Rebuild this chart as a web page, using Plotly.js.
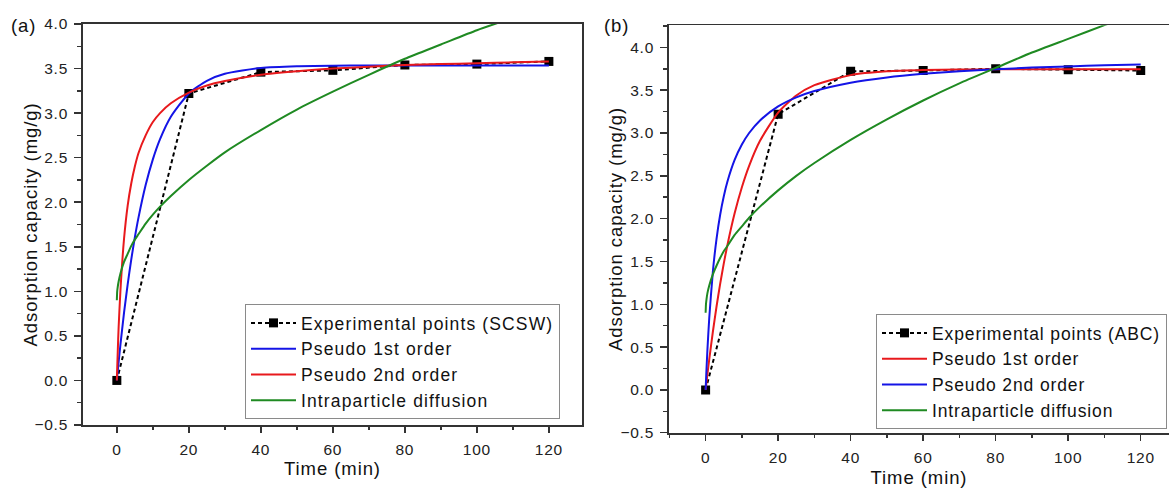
<!DOCTYPE html>
<html>
<head>
<meta charset="utf-8">
<script src="https://cdn.plot.ly/plotly-3.0.1.min.js"></script>
<style>
html,body{margin:0;padding:0;overflow:hidden;background:#fff;}
#chart{width:1169px;height:488px;}
svg text{letter-spacing:0.05em;}
svg .legendtext{letter-spacing:0.065em;}
</style>
</head>
<body>
<div id="chart"></div>
<script>
// ---- Data ----
const expTime = [0, 20, 40, 60, 80, 100, 120];
const expSCSW = [0, 3.22, 3.46, 3.48, 3.54, 3.55, 3.58];
const expABC  = [0, 3.22, 3.72, 3.73, 3.75, 3.74, 3.73];

const fitTime = [0, 0.1, 0.25, 0.5, 1, 2, 3, 4, 5, 6, 8, 10, 12, 15, 20, 25, 30, 40, 50, 60, 70, 80, 90, 100, 110, 120];

// Panel (a) SCSW
const scswPseudo1 = [0, 0.043, 0.106, 0.207, 0.403, 0.761, 1.075, 1.357, 1.605, 1.824, 2.192, 2.481, 2.708, 2.959, 3.221, 3.363, 3.441, 3.507, 3.527, 3.532, 3.534, 3.535, 3.535, 3.535, 3.535, 3.535];
const scswPseudo2 = [0, 0.135, 0.32, 0.60, 1.01, 1.59, 1.96, 2.21, 2.40, 2.55, 2.75, 2.90, 3.00, 3.11, 3.23, 3.31, 3.36, 3.43, 3.47, 3.50, 3.52, 3.54, 3.55, 3.56, 3.57, 3.58];
const scswIntra   = [0.90, 1.00, 1.05, 1.11, 1.20, 1.33, 1.42, 1.51, 1.58, 1.64, 1.76, 1.86, 1.95, 2.07, 2.25, 2.41, 2.56, 2.81, 3.04, 3.24, 3.43, 3.61, 3.77, 3.93, 4.07, 4.21];

// Panel (b) ABC
const abcPseudo1 = [0, 0.037, 0.092, 0.183, 0.357, 0.679, 0.971, 1.235, 1.474, 1.690, 2.062, 2.367, 2.617, 2.909, 3.238, 3.438, 3.559, 3.676, 3.720, 3.736, 3.742, 3.744, 3.745, 3.745, 3.745, 3.745];
const abcPseudo2 = [0, 0.104, 0.250, 0.470, 0.839, 1.382, 1.762, 2.043, 2.259, 2.430, 2.685, 2.865, 3.000, 3.147, 3.310, 3.416, 3.490, 3.588, 3.649, 3.691, 3.722, 3.745, 3.764, 3.778, 3.791, 3.801];
const abcIntra   = [0.90, 1.00, 1.06, 1.13, 1.22, 1.35, 1.45, 1.54, 1.62, 1.68, 1.81, 1.91, 2.01, 2.14, 2.33, 2.50, 2.65, 2.92, 3.16, 3.38, 3.58, 3.76, 3.94, 4.10, 4.26, 4.41];

const namesA = ['Experimental points (SCSW)', 'Pseudo 1st order', 'Pseudo 2nd order', 'Intraparticle diffusion'];
const namesB = ['Experimental points (ABC)', 'Pseudo 1st order', 'Pseudo 2nd order', 'Intraparticle diffusion'];
const xTitle = 'Time (min)';
const yTitle = 'Adsorption capacity (mg/g)';

// ---- Styling ----
const W = 1169, H = 488;
const BLUE = '#1414e6', RED = '#e8191c', GREEN = '#1f8a22', AX = '#333333';
const FONT = 'Liberation Sans, Arial, sans-serif';

function expTrace(y, name, xa, ya, leg) {
  return {x: expTime, y: y, name: name, xaxis: xa, yaxis: ya, legend: leg,
    type: 'scatter', mode: 'lines+markers',
    line: {color: '#000', width: 2, dash: '4px,3px'},
    marker: {symbol: 'square', size: 9, color: '#000'}};
}
function fitTrace(y, name, color, xa, ya, leg) {
  return {x: fitTime, y: y, name: name, xaxis: xa, yaxis: ya, legend: leg,
    type: 'scatter', mode: 'lines',
    line: {color: color, width: 2, shape: 'spline', smoothing: 0.6}};
}

const data = [
  expTrace(expSCSW, namesA[0], 'x', 'y', 'legend'),
  fitTrace(scswPseudo1, namesA[1], BLUE, 'x', 'y', 'legend'),
  fitTrace(scswPseudo2, namesA[2], RED, 'x', 'y', 'legend'),
  fitTrace(scswIntra, namesA[3], GREEN, 'x', 'y', 'legend'),
  expTrace(expABC, namesB[0], 'x2', 'y2', 'legend2'),
  fitTrace(abcPseudo1, namesB[1], RED, 'x2', 'y2', 'legend2'),
  fitTrace(abcPseudo2, namesB[2], BLUE, 'x2', 'y2', 'legend2'),
  fitTrace(abcIntra, namesB[3], GREEN, 'x2', 'y2', 'legend2')
];

function xAxis(domain, range, anchor, standoff, lblOff) {
  return {domain: domain, range: range, anchor: anchor,
    tick0: 0, dtick: 20, ticks: 'outside', ticklen: 6, tickwidth: 1.5, tickcolor: AX,
    ticklabelstandoff: lblOff,
    showline: true, linecolor: AX, linewidth: 1.8, mirror: true,
    showgrid: false, zeroline: false,
    minor: {dtick: 10, ticks: 'outside', ticklen: 3.5, tickwidth: 1.5, tickcolor: AX, showgrid: false},
    tickfont: {size: 15.5, color: '#222'},
    title: {text: xTitle, font: {size: 18.5, color: '#111'}, standoff: standoff}};
}
function yAxis(domain, range, anchor, mirror) {
  return {domain: domain, range: range, anchor: anchor,
    tick0: 0, dtick: 0.5, tickformat: '.1f', ticks: 'outside', ticklen: 7, tickwidth: 1.5, tickcolor: AX,
    ticklabelstandoff: 3,
    showline: true, linecolor: AX, linewidth: 1.8, mirror: mirror,
    showgrid: false, zeroline: false,
    minor: {dtick: 0.25, ticks: 'outside', ticklen: 4, tickwidth: 1.5, tickcolor: AX, showgrid: false},
    tickfont: {size: 15.5, color: '#222'}};
}

const legendStyle = {bgcolor: '#ffffff', bordercolor: '#8a8a8a', borderwidth: 1,
  font: {size: 17.5, color: '#111'}, itemwidth: 45, tracegroupgap: 0, traceorder: 'normal'};

function yTitleAnn(xPx, yTop, yBot) {
  return {text: yTitle, textangle: -90, xref: 'paper', yref: 'paper',
    x: xPx / W, y: 1 - (yTop + yBot) / 2 / H, xanchor: 'center', yanchor: 'middle',
    showarrow: false, font: {size: 18.5, color: '#111'}};
}

const layout = {
  width: W, height: H,
  margin: {l: 0, r: 0, t: 0, b: 0},
  paper_bgcolor: '#ffffff', plot_bgcolor: '#ffffff',
  font: {family: FONT, size: 15, color: '#222'},
  showlegend: true,
  xaxis: xAxis([83 / W, 582 / W], [-9.4, 129.2], 'y', 0, 4),
  yaxis: yAxis([1 - 425 / H, 1 - 24 / H], [-0.5, 4.0], 'x', true),
  xaxis2: xAxis([669 / W, 1], [-10.1, 127.8], 'y2', 8, 4),
  yaxis2: yAxis([1 - 432.7 / H, 1 - 25.3 / H], [-0.5, 4.258], 'x2', false),
  legend: Object.assign({x: 245 / W, y: 1 - 304 / H, xanchor: 'left', yanchor: 'top'}, legendStyle),
  legend2: Object.assign({x: 1167 / W, y: 1 - 314 / H, xanchor: 'right', yanchor: 'top'}, legendStyle),
  annotations: [
    yTitleAnn(30, 24, 425),
    yTitleAnn(616, 25.3, 432.7),
    {text: '(a)', xref: 'paper', yref: 'paper', x: 9 / W, y: 1 - 25 / H, xanchor: 'left', yanchor: 'middle',
     showarrow: false, font: {size: 18.5, color: '#111'}},
    {text: '(b)', xref: 'paper', yref: 'paper', x: 602 / W, y: 1 - 25 / H, xanchor: 'left', yanchor: 'middle',
     showarrow: false, font: {size: 18.5, color: '#111'}}
  ]
};

Plotly.newPlot('chart', data, layout, {displayModeBar: false, staticPlot: true});
</script>
</body>
</html>
